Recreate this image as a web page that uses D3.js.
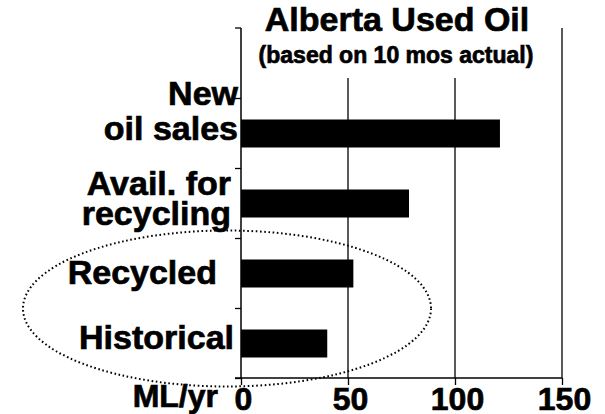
<!DOCTYPE html>
<html>
<head>
<meta charset="utf-8">
<script src="https://cdn.jsdelivr.net/npm/d3@7"></script>
<style>
  body { margin: 0; background: #fff; }
  text { font-family: "Liberation Sans", Arial, sans-serif; font-weight: bold; fill: #000; stroke: #000; stroke-width: 0.7px; }
</style>
</head>
<body>
<script>
// data
var categories = ["New oil sales", "Avail. for recycling", "Recycled", "Historical"];
var labelLines = [["New", "oil sales"], ["Avail. for", "recycling"], ["Recycled"], ["Historical"]];
var values = [121, 78.5, 52.5, 40.3];
var xTicks = [0, 50, 100, 150];

var width = 605, height = 414;
var svg = d3.select("body").append("svg").attr("width", width).attr("height", height);

var x = d3.scaleLinear().domain([0, 150]).range([241, 562]);
var y = d3.scaleBand().domain(categories).range([98.5, 378.5]).paddingInner(0.6).paddingOuter(0.3);
var plotTop = 28, plotBottom = 378;

// grid lines
svg.selectAll(".grid").data(xTicks.slice(1)).enter().append("line")
  .attr("x1", d => x(d)).attr("x2", d => x(d))
  .attr("y1", plotTop).attr("y2", plotBottom)
  .attr("stroke", "#000").attr("stroke-width", 1.3);

// title box hides the grid behind it
svg.append("rect").attr("x", 246).attr("y", 0).attr("width", 308).attr("height", 78).attr("fill", "#fff");
svg.append("text").attr("x", 397).attr("y", 31).attr("text-anchor", "middle")
  .style("font-size", "34px").text("Alberta Used Oil");
svg.append("text").attr("x", 396).attr("y", 63).attr("text-anchor", "middle")
  .style("font-size", "23px").text("(based on 10 mos actual)");

// bars
svg.selectAll(".bar").data(values).enter().append("rect")
  .attr("x", x(0))
  .attr("y", (d, i) => y(categories[i]))
  .attr("width", d => x(d) - x(0))
  .attr("height", y.bandwidth())
  .attr("fill", "#000");

// y axis with ticks at band edges
svg.append("line").attr("x1", x(0)).attr("x2", x(0)).attr("y1", plotTop).attr("y2", plotBottom)
  .attr("stroke", "#000").attr("stroke-width", 1.5);
var edges = [plotTop];
var step = y.step();
for (var i = 0; i <= categories.length; i++) edges.push(y(categories[0]) - y.paddingOuter() * step + i * step);
svg.selectAll(".ytick").data(edges).enter().append("line")
  .attr("x1", x(0) - 6).attr("x2", x(0))
  .attr("y1", d => d).attr("y2", d => d)
  .attr("stroke", "#000").attr("stroke-width", 1.3);

// x axis
var xAxis = svg.append("g").attr("transform", "translate(0," + plotBottom + ")")
  .call(d3.axisBottom(x).tickValues(xTicks).tickSize(7));
xAxis.select(".domain").remove();
xAxis.selectAll(".tick line").attr("stroke", "#000").attr("stroke-width", 1.3);
xAxis.selectAll(".tick text").attr("x", 2).attr("y", 32).attr("dy", null)
  .style("font-size", "32px").style("font-family", "Liberation Sans, Arial, sans-serif").style("font-weight", "bold");
svg.append("line").attr("x1", x(0) - 6).attr("x2", x(150)).attr("y1", plotBottom).attr("y2", plotBottom)
  .attr("stroke", "#000").attr("stroke-width", 1.5);

svg.append("text").attr("x", 218).attr("y", 407).attr("text-anchor", "end")
  .style("font-size", "32px").text("ML/yr");

// category labels
var labelPos = [{right: 238, dy: -29, lh: 35}, {right: 231, dy: -9, lh: 30}, {right: 217, dy: 10, lh: 0}, {right: 234, dy: 5, lh: 0}];
labelLines.forEach(function(lines, i) {
  var cy = y(categories[i]) + y.bandwidth() / 2;
  var t = svg.append("text").attr("text-anchor", "end").style("font-size", "34px");
  lines.forEach(function(s, j) {
    t.append("tspan").attr("x", labelPos[i].right).attr("y", cy + labelPos[i].dy + j * labelPos[i].lh).text(s);
  });
});

// dotted ellipse round the last two categories
svg.append("ellipse").attr("cx", 227).attr("cy", (y("Recycled") + y("Historical") + y.bandwidth()) / 2)
  .attr("rx", 204).attr("ry", 78)
  .attr("fill", "none").attr("stroke", "#000").attr("stroke-width", 2)
  .attr("stroke-dasharray", "1.6 2.6");
</script>
</body>
</html>
